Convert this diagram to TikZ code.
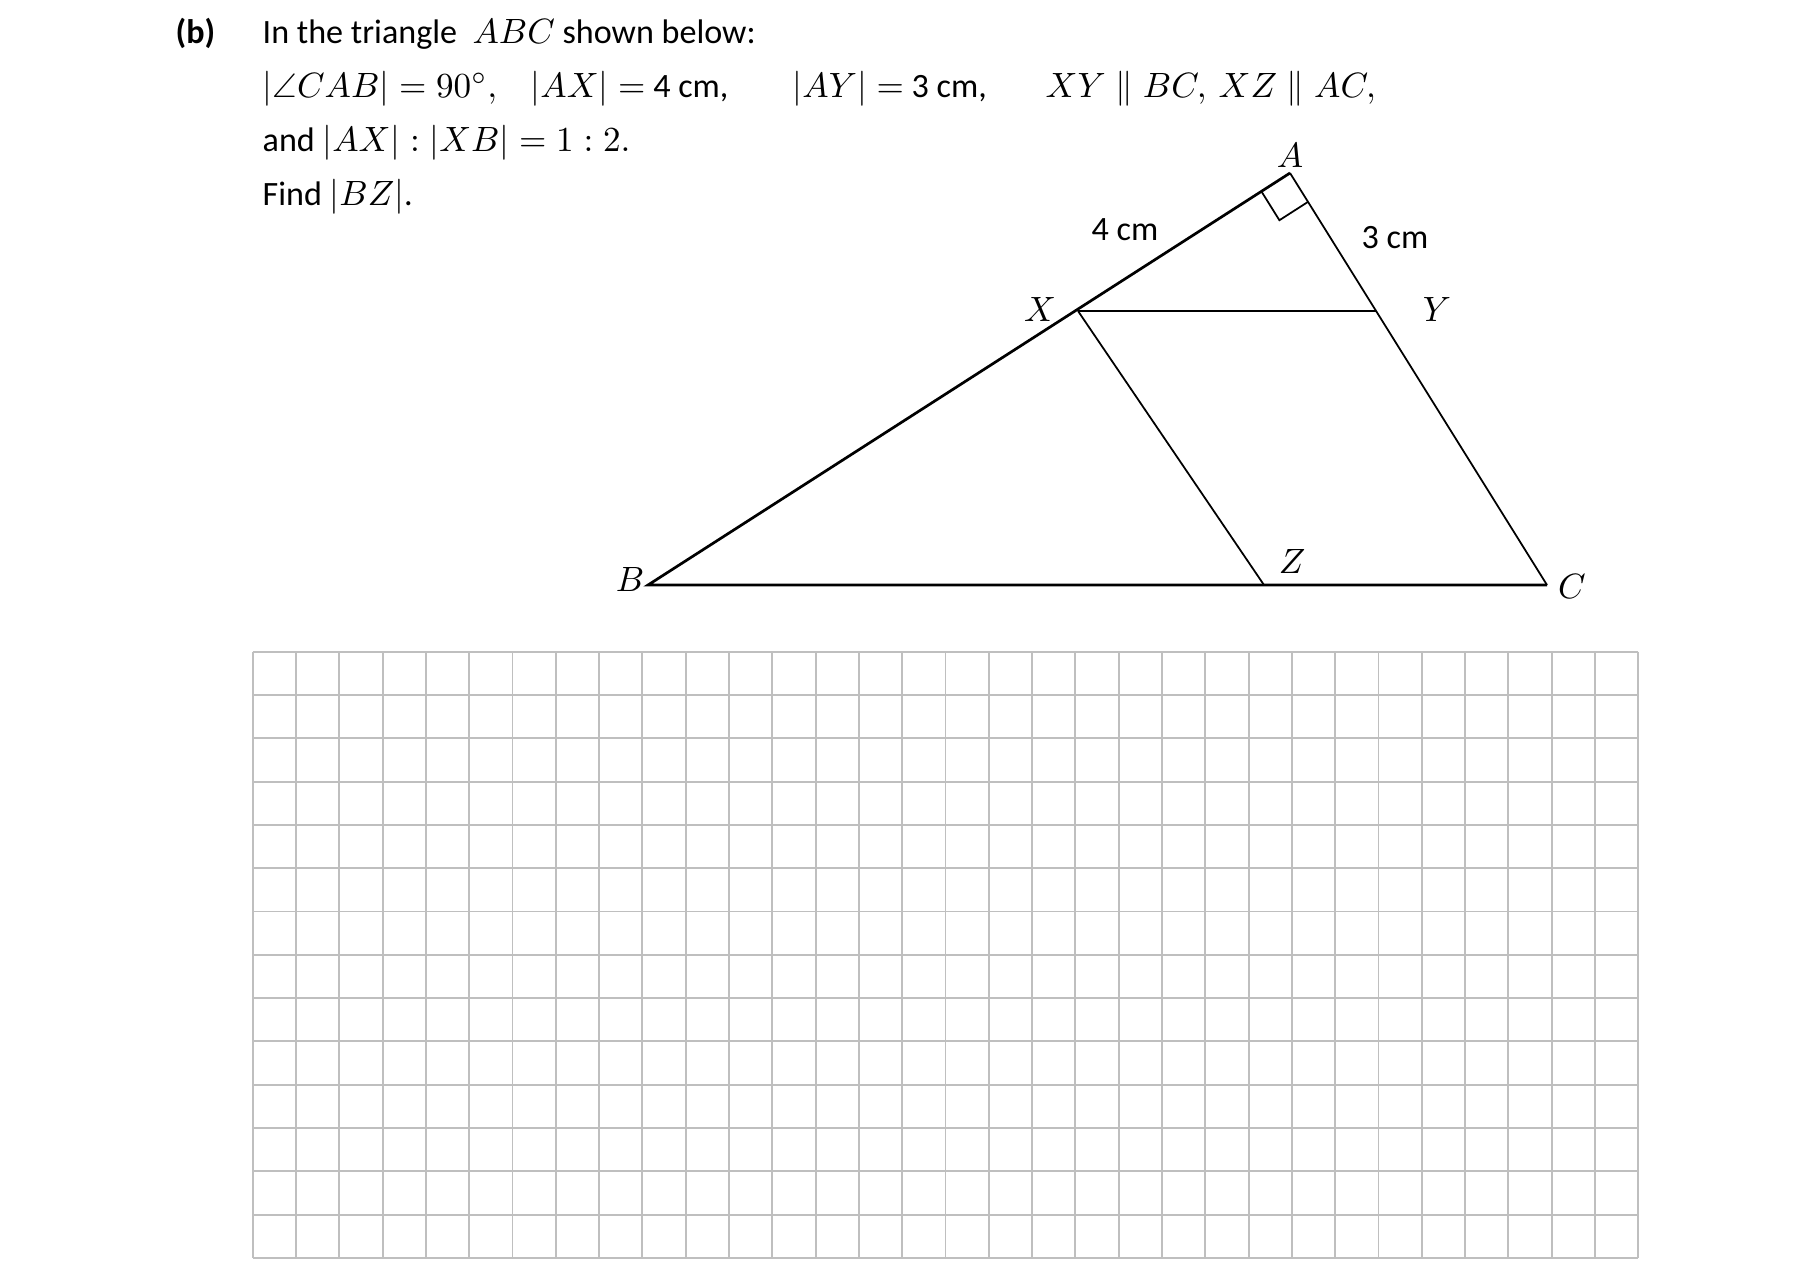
\documentclass[tikz,border=0pt]{standalone}
\usepackage{amsmath}
\usepackage{amssymb}
\usepackage{fontspec}
\setmainfont{Carlito}
\usetikzlibrary{calc}

\tikzset{
  thickside/.style={black, line width=0.77pt},
  thinside/.style={black, line width=0.5pt},
  gridline/.style={black!25, line width=0.55pt},
  qline/.style={anchor=base west},
}

\begin{document}
\begin{tikzpicture}[x=0.1mm, y=-0.1mm, font=\fontsize{9.7}{12}\selectfont]
\tikzstyle{every node}+=[inner sep=0pt]
\useasboundingbox (0,0) rectangle (1818,1282);
% question text
\node [qline] (part) at (175,43) {\textbf{(b)}};
\node [qline] (line1) at (262,43) {In the triangle\ \ $ABC$ shown below:};
\node [qline] (ang) at (262,97) {$|\angle CAB| = 90^{\circ},$};
\node [qline] (ax) at (530,97) {$|AX| =$ 4 cm,};
\node [qline] (ay) at (792,97) {$|AY| =$ 3 cm,};
\node [qline] (xy) at (1045,97) {$XY \parallel BC,$};
\node [qline] (xz) at (1218,97) {$XZ \parallel AC,$};
\node [qline] (line3) at (262,151) {and $|AX| : |XB| = 1 : 2.$};
\node [qline] (line4) at (262,205) {Find $|BZ|$.};
% triangle
\coordinate (A) at (1290,173);
\coordinate (B) at (648,585);
\coordinate (C) at (1547,585);
\coordinate (X) at (1078,311);
\coordinate (Y) at (1376,311);
\coordinate (Z) at (1264,585);
\draw [thickside] (C) -- (B) -- (A);
\draw [thinside] (A) -- (C);
\draw [thickside] (X) -- (Y);
\draw [thinside] (X) -- (Z);
% right angle at A
\coordinate (rab) at ($(A)!3.4mm!(B)$);
\coordinate (rac) at ($(A)!3.4mm!(C)$);
\draw [thinside] (rab) -- ($(rab)+(rac)-(A)$) -- (rac);
% labels
\node (labA) at (1290,155) {$A$};
\node (labB) at (630,579) {$B$};
\node (labC) at (1572,586) {$C$};
\node (labX) at (1040,309) {$X$};
\node (labY) at (1437,309) {$Y$};
\node (labZ) at (1292,561) {$Z$};
\node (len4) at (1125,230) {4 cm};
\node (len3) at (1395,238) {3 cm};
% answer grid
\foreach \i in {0,...,32}
  \draw [gridline] ({252.7+43.3*\i},651.7) -- ++(0,606);
\foreach \j in {0,...,14}
  \draw [gridline] (252.7,{651.7+43.3*\j}) -- ++(1385.6,0);
\end{tikzpicture}
\end{document}
